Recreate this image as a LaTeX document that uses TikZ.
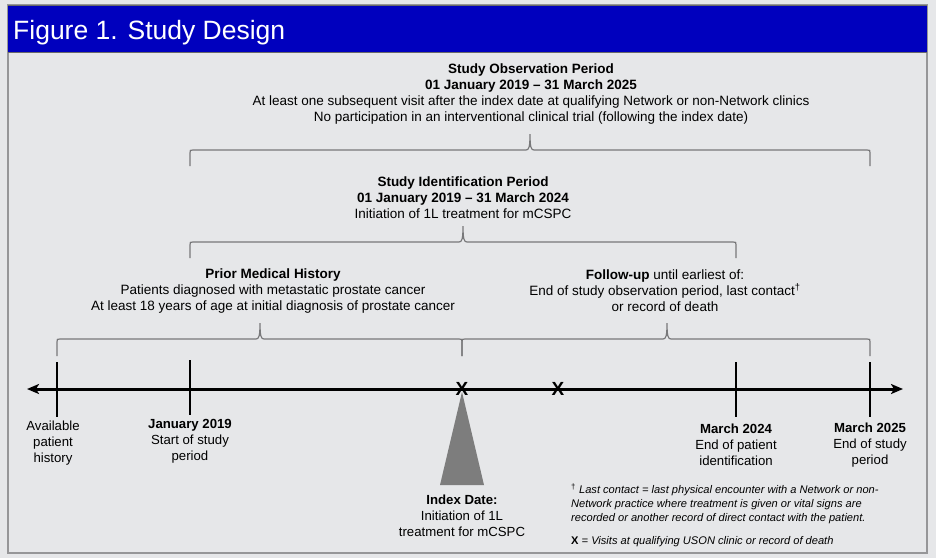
\documentclass[tikz,border=0pt]{standalone}
\usepackage{fontspec}
\setmainfont{Liberation Sans}
\usetikzlibrary{arrows.meta}
\definecolor{pagebg}{RGB}{230,231,233}
\definecolor{titleblue}{RGB}{0,0,190}
\definecolor{frameline}{RGB}{150,150,152}
\definecolor{bracegray}{RGB}{120,120,122}
\definecolor{indexgray}{RGB}{125,125,125}

% brace: x left, x tip, x right, y of the bar, y of the feet
\newcommand{\periodbrace}[5]{%
  \draw[bracegray, line width=1.2pt]
    (#1,#5) -- (#1,#4+3) .. controls (#1,#4) .. (#1+3,#4) --
    (#2-4,#4) .. controls (#2-1,#4) and (#2,#4-3) .. (#2,#4-16)
    .. controls (#2,#4-3) and (#2+1,#4) .. (#2+4,#4) --
    (#3-3,#4) .. controls (#3,#4) .. (#3,#4+3) -- (#3,#5);}

\begin{document}
\begin{tikzpicture}[
    x=1pt, y=-1pt,
    >={Stealth[length=12pt, width=10pt, inset=3pt]},
    uptext/.style={align=center, font=\fontsize{13.5}{16}\selectfont, inner sep=0pt},
    lowtext/.style={align=center, font=\fontsize{13.2}{16}\selectfont, inner sep=0pt},
    notetext/.style={align=left, anchor=west, font=\fontsize{11.1}{14}\selectfont\itshape, inner sep=0pt},
    visitmark/.style={font=\fontsize{19}{19}\selectfont\bfseries, inner sep=0pt}
]
\useasboundingbox (0,0) rectangle (936,558);

% Background & Frame
\fill[pagebg] (0,0) rectangle (936,558);
\draw[frameline, line width=1.5pt] (8,5) rectangle (927,553);

% Title Bar
\fill[titleblue] (8,5) rectangle (927,52);
\draw[frameline!70!black, line width=1pt] (8,5) -- (927,5);
\draw[frameline!70!black, line width=1pt] (8,52) -- (927,52);
\node[anchor=west, text=white, font=\fontsize{26.5}{30}\selectfont, inner sep=0pt] (title) at (13,33) {Figure 1. Study Design};

% 1. PERIOD TEXTS
\node[uptext] (obsperiod) at (531,94) {\textbf{Study Observation Period}\\
  \textbf{01 January 2019 -- 31 March 2025}\\
  At least one subsequent visit after the index date at qualifying Network or non-Network clinics\\
  No participation in an interventional clinical trial (following the index date)};
\node[uptext] (idperiod) at (463,198) {\textbf{Study Identification Period}\\
  \textbf{01 January 2019 -- 31 March 2024}\\
  Initiation of 1L treatment for mCSPC};
\node[uptext] (history) at (273,291) {\textbf{Prior Medical History}\\
  Patients diagnosed with metastatic prostate cancer\\
  At least 18 years of age at initial diagnosis of prostate cancer};
\node[uptext] (followup) at (665,291) {\textbf{Follow-up} until earliest of:\\
  End of study observation period, last contact\textsuperscript{†}\\
  or record of death};

% 2. BRACES
\periodbrace{190}{530}{870}{150}{166}
\periodbrace{190}{463}{736}{242}{258}
\periodbrace{57}{260}{462}{339}{356}
\periodbrace{462}{667}{870}{339}{356}

% 3. TIMELINE
\coordinate (tlwest) at (27,389);
\coordinate (tleast) at (903,389);
\draw[line width=3pt, <->] (tlwest) -- (tleast);

% Tick marks
\draw[line width=1.6pt] (57,362) -- (57,417);
\draw[line width=1.6pt] (190,360) -- (190,415);
\draw[line width=1.6pt] (736,362) -- (736,417);
\draw[line width=1.6pt] (870,362) -- (870,417);

% Index date wedge
\fill[indexgray] (462,392) -- (440,485) -- (484,485) -- cycle;

% Visit marks
\node[visitmark] (visitA) at (462,389) {X};
\node[visitmark] (visitB) at (558,389) {X};

% 4. TIMELINE LABELS
\node[lowtext] (availhist) at (53,443) {Available\\patient\\history};
\node[lowtext] (studystart) at (190,441) {\textbf{January 2019}\\Start of study\\period};
\node[lowtext] (idend) at (736,445) {\textbf{March 2024}\\End of patient\\identification};
\node[lowtext] (studyend) at (870,445) {\textbf{March 2025}\\End of study\\period};
\node[lowtext] (indexdate) at (462,516) {\textbf{Index Date:}\\Initiation of 1L\\treatment for mCSPC};

% 5. FOOTNOTES
\node[notetext] (contactnote) at (571,504) {\textsuperscript{\upshape †} Last contact = last physical encounter with a Network or non-\\
  Network practice where treatment is given or vital signs are\\
  recorded or another record of direct contact with the patient.};
\node[notetext] (visitnote) at (571,542) {\textbf{\upshape X} = Visits at qualifying USON clinic or record of death};

\end{tikzpicture}
\end{document}
